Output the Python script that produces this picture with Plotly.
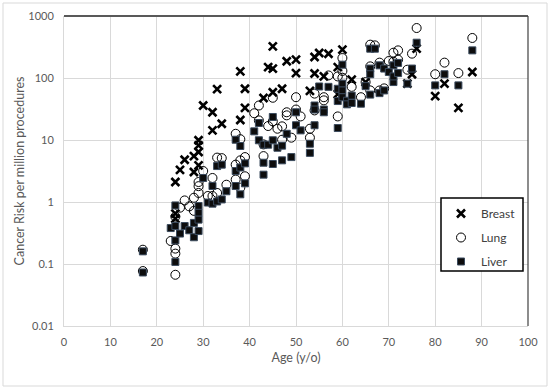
import plotly.graph_objects as go

# ---- data ----
breast_age = [24, 24, 24, 25, 26, 28, 28, 29, 29, 29, 29, 30, 32, 32, 33, 34, 38, 38, 39, 39,
              43, 44, 45, 45, 45, 47, 48, 50, 50, 53, 54, 54, 55, 56, 57, 59, 59, 60, 62, 65,
              74, 75, 76, 80, 82, 85, 88]
breast_risk = [2.1, 0.65, 0.54, 3.3, 4.8, 5.5, 3.05, 9.9, 8.2, 6.4, 3.9, 36, 28, 14.3, 66, 18.3, 128, 21, 67, 33,
               47.5, 150, 142, 324, 59, 67, 186, 198, 120, 62, 218, 118, 253, 106, 246, 150, 55, 287, 94, 86,
               81, 115, 297, 51, 81, 33, 125]

lung_age = [17, 17, 23, 24, 24, 24, 24, 25, 26, 27, 28, 28, 29, 29, 29, 30, 31, 32, 32, 33,
            33, 34, 35, 37, 37, 37, 38, 38, 38, 39, 39, 41, 42, 42, 43, 43, 44, 45, 45, 46,
            47, 47, 48, 48, 49, 50, 50, 51, 53, 53, 54, 54, 56, 56, 57, 59, 59, 60, 60, 60,
            62, 64, 65, 66, 66, 66, 67, 68, 68, 69, 70, 71, 71, 72, 72, 74, 75, 76, 80, 82,
            85, 88]
lung_risk = [0.17, 0.077, 0.235, 0.177, 0.147, 0.067, 0.58, 0.81, 1.06, 0.85, 1.17, 0.72, 2.1, 1.8, 1.4, 3.16, 1.25, 2.44, 1.25, 5.2,
             1.4, 5.1, 1.9, 12.6, 4.0, 2.3, 10.3, 4.7, 1.7, 5.3, 2.6, 27, 36, 20.7, 8.5, 5.5, 16.8, 48, 20, 15.2,
             16.6, 10.1, 28, 25, 10.9, 49, 31, 24, 15.2, 10.9, 56, 30, 49, 43.6, 110, 106, 24, 210, 101, 130,
             72, 49, 86, 345, 154, 63, 336, 177, 63, 68, 188, 256, 183, 279, 198, 136, 247, 640, 115, 177,
             120, 442]

liver_age = [17, 17, 23, 24, 24, 24, 24, 25, 26, 27, 28, 28, 29, 29, 29, 29, 30, 31, 32, 32,
             33, 33, 34, 34, 35, 37, 37, 37, 38, 38, 38, 39, 39, 41, 42, 42, 43, 43, 43, 44,
             45, 45, 45, 46, 47, 47, 48, 49, 50, 50, 51, 53, 53, 54, 54, 54, 55, 56, 56, 57,
             59, 59, 59, 60, 60, 60, 60, 61, 61, 62, 62, 64, 65, 66, 66, 66, 66, 67, 68, 68,
             69, 69, 70, 71, 71, 71, 72, 72, 74, 75, 76, 80, 82, 85, 88]
liver_risk = [0.16, 0.073, 0.38, 0.88, 0.41, 0.24, 0.108, 0.31, 0.41, 0.35, 0.46, 0.27, 0.86, 0.67, 0.52, 0.34, 2.44, 0.98, 1.81, 0.94,
              3.8, 1.02, 4.0, 1.1, 1.49, 10.1, 3.16, 1.81, 8.0, 3.6, 1.33, 4.2, 2.0, 13.8, 18.8, 9.9, 8.4, 4.3, 2.76, 8.4,
              23.5, 9.9, 4.1, 7.5, 8.1, 4.7, 12.6, 5.3, 28, 17.3, 14.3, 8.7, 6.2, 36, 31, 17.3, 73, 31, 28, 72,
              67, 42.5, 15.6, 164, 81, 63, 49, 43, 37.6, 52, 39.5, 38.5, 74, 297, 142, 115, 54, 297, 160, 57,
              142, 63, 125, 160, 86, 106, 175, 120, 81, 142, 371, 76, 115, 76, 279]

x_ticks = [0, 10, 20, 30, 40, 50, 60, 70, 80, 90, 100]
y_ticks = [0.01, 0.1, 1, 10, 100, 1000]
y_tick_text = ["0.01", "0.1", "1", "10", "100", "1000"]

FONT = "Lato, 'Open Sans', sans-serif"
TXT = "#595959"

# plot area in pixels
L, R, T, B = 64, 528, 16, 326
PW, PH = R - L, B - T


def px(x):
    return (x - L) / PW


def py(y):
    return (B - y) / PH


fig = go.Figure()
fig.add_trace(go.Scatter(
    x=breast_age, y=breast_risk, mode="markers", name="Breast", legendgroup="b",
    marker=dict(symbol="x-thin", size=8, line=dict(color="black", width=2.6), color="black")))
fig.add_trace(go.Scatter(
    x=lung_age, y=lung_risk, mode="markers", name="Lung", legendgroup="l",
    marker=dict(symbol="circle-open", size=9, color="black", line=dict(color="black", width=1))))
fig.add_trace(go.Scatter(
    x=liver_age, y=liver_risk, mode="markers", name="Liver", legendgroup="v",
    marker=dict(symbol="square", size=7, color="#0d0d0d", line=dict(color="#3b4b5e", width=1))))

fig.update_layout(
    width=550, height=389,
    margin=dict(l=L, r=550 - R, t=T, b=389 - B),
    paper_bgcolor="white", plot_bgcolor="white",
    font=dict(family=FONT, color=TXT, size=11),
    showlegend=True,
    legend=dict(x=px(441), y=py(199), xanchor="left", yanchor="top",
                borderwidth=0, bgcolor="rgba(0,0,0,0)",
                font=dict(family=FONT, size=12, color="#404040"),
                tracegroupgap=5, itemwidth=30),
    xaxis=dict(range=[0, 100], tickvals=x_ticks, showgrid=True, gridcolor="#d9d9d9", gridwidth=1,
               showline=True, linecolor="#d9d9d9", linewidth=1, zeroline=False, ticks="",
               automargin=False, ticklabelstandoff=6,
               title=dict(text="Age (y/o)", font=dict(size=12.5, color=TXT), standoff=6),
               tickfont=dict(size=11, color=TXT)),
    yaxis=dict(type="log", range=[-2, 3], tickvals=y_ticks, ticktext=y_tick_text,
               showgrid=True, gridcolor="#d9d9d9", gridwidth=1,
               showline=True, linecolor="#d9d9d9", linewidth=1, zeroline=False, ticks="",
               automargin=False, ticklabelstandoff=7,
               title=dict(text="Cancer Risk per million procedures", font=dict(size=12.5, color=TXT), standoff=0),
               tickfont=dict(size=11, color=TXT)),
    shapes=[
        dict(type="line", xref="paper", yref="paper", x0=0, x1=1, y0=1, y1=1,
             line=dict(color="#595959", width=2)),
        dict(type="line", xref="paper", yref="paper", x0=1, x1=1, y0=0, y1=1,
             line=dict(color="#404040", width=1.2)),
        dict(type="rect", xref="paper", yref="paper", x0=px(3), x1=px(547), y0=py(386), y1=py(3),
             line=dict(color="#d9d9d9", width=1)),
        dict(type="rect", xref="paper", yref="paper", x0=px(441), x1=px(523), y0=py(271), y1=py(198),
             line=dict(color="black", width=1.5), fillcolor="white", layer="above"),
    ],
)

fig.write_html("out.html", config={"displayModeBar": False})

# remove the browser's default page margin so the figure sits at the window origin
with open("out.html", encoding="utf-8") as f:
    html = f.read()
html = html.replace("<head>", "<head><style>html,body{margin:0;padding:0;}</style>", 1)
with open("out.html", "w", encoding="utf-8") as f:
    f.write(html)
